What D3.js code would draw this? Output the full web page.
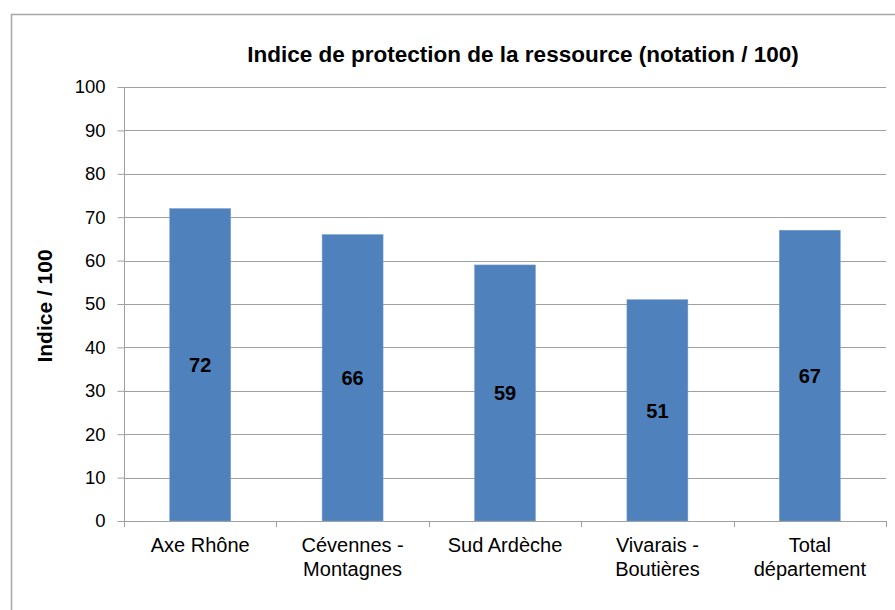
<!DOCTYPE html>
<html><head><meta charset="utf-8">
<script src="https://cdn.jsdelivr.net/npm/d3@7"></script>
<style>body{margin:0;background:#fff}svg{display:block}text{font-family:"Liberation Sans",Arial,sans-serif}</style>
</head><body>
<svg id="c" width="895" height="610"></svg>
<script>
const categories = [["Axe Rhône"], ["Cévennes -", "Montagnes"], ["Sud Ardèche"], ["Vivarais -", "Boutières"], ["Total", "département"]];
const values = [72, 66, 59, 51, 67];
const yTicks = [0,10,20,30,40,50,60,70,80,90,100];
const title = "Indice de protection de la ressource (notation / 100)";
const yTitle = "Indice / 100";

const svg = d3.select("#c");
svg.append("rect").attr("x",11.5).attr("y",14.5).attr("width",900).attr("height",620)
  .attr("fill","#fff").attr("stroke","#a6a6a6").attr("stroke-width",1.5);

const L=124, R=886, T=87, B=521;
const x = d3.scaleBand().domain(d3.range(values.length)).range([L,R]).paddingInner(0.6).paddingOuter(0.3);
const xb = d3.scaleBand().domain(d3.range(values.length)).range([L,R]);
const y = d3.scaleLinear().domain([0,100]).range([B,T]);

// grid
svg.append("g").selectAll("line").data(yTicks.filter(d=>d>0)).join("line")
  .attr("x1",L).attr("x2",R).attr("y1",d=>Math.round(y(d))+0.5).attr("y2",d=>Math.round(y(d))+0.5)
  .attr("stroke","#a0a0a0").attr("stroke-width",1);

// bars
svg.append("g").selectAll("rect").data(values).join("rect")
  .attr("x",(d,i)=>x(i)).attr("width",x.bandwidth())
  .attr("y",d=>y(d)).attr("height",d=>B-y(d))
  .attr("fill","#4f81bd").attr("stroke","#7aa0d0").attr("stroke-width",0.5);

// value labels
svg.append("g").selectAll("text").data(values).join("text")
  .attr("x",(d,i)=>x(i)+x.bandwidth()/2).attr("y",d=>(y(d)+B)/2+7.5)
  .attr("text-anchor","middle").attr("font-size",20).attr("font-weight","bold").attr("fill","#000")
  .text(d=>d);

// y axis
const ya = svg.append("g").attr("transform",`translate(${L+0.5},0)`)
  .call(d3.axisLeft(y).tickValues(yTicks).tickSize(7).tickPadding(12));
ya.select(".domain").attr("stroke","#a0a0a0").attr("d",`M0,${T}V${B}`);
ya.selectAll(".tick line").attr("stroke","#a0a0a0");
ya.selectAll(".tick text").attr("font-size",18.5).attr("fill","#000").attr("font-family","Liberation Sans, Arial, sans-serif");

// x axis
svg.append("line").attr("x1",L).attr("x2",R).attr("y1",B+0.5).attr("y2",B+0.5).attr("stroke","#a0a0a0");
svg.append("g").selectAll("line").data(d3.range(values.length+1)).join("line")
  .attr("x1",i=>Math.round(L+i*xb.step())+0.5).attr("x2",i=>Math.round(L+i*xb.step())+0.5)
  .attr("y1",B).attr("y2",B+6).attr("stroke","#a0a0a0");

const cl = svg.append("g").selectAll("text").data(categories).join("text")
  .attr("text-anchor","middle").attr("font-size",20).attr("fill","#000");
cl.each(function(lines,i){
  d3.select(this).selectAll("tspan").data(lines).join("tspan")
    .attr("x",xb(i)+xb.bandwidth()/2).attr("y",(l,j)=>552+j*24).text(l=>l);
});

// titles
svg.append("text").attr("x",523).attr("y",62).attr("text-anchor","middle")
  .attr("font-size",22.5).attr("font-weight","bold").text(title);
svg.append("text").attr("transform",`translate(52,${(T+B)/2+2}) rotate(-90)`).attr("text-anchor","middle")
  .attr("font-size",21).attr("font-weight","bold").text(yTitle);
</script>
</body></html>
